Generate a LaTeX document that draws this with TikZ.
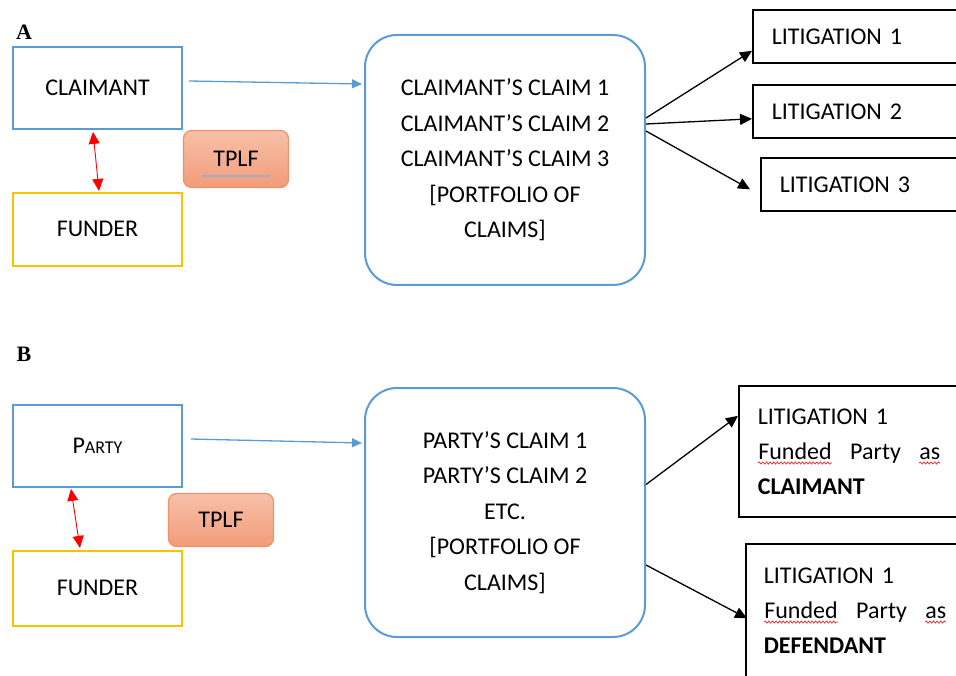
\documentclass[tikz,border=0pt]{standalone}
\usepackage{fontspec}
\setmainfont{Carlito}
\newfontfamily\panelfont{Liberation Serif}
\usetikzlibrary{positioning, shapes, arrows.meta, calc, decorations.pathmorphing}

\definecolor{boxblue}{RGB}{91,155,213}
\definecolor{boxgold}{RGB}{255,192,0}
\definecolor{tplfedge}{RGB}{240,145,105}
\definecolor{tplftop}{RGB}{248,192,168}
\definecolor{tplfbottom}{RGB}{241,156,122}
\definecolor{tplfline}{RGB}{165,172,190}
\definecolor{squigred}{RGB}{230,40,40}

\newcommand{\squig}[1]{\tikz[baseline=(w.base)]{\node[inner sep=0pt, text width={}, align=none, minimum width=0pt, minimum height=0pt] (w) {#1};
    \draw[squigred, line width=0.7pt, decorate, decoration={snake, amplitude=1.1pt, segment length=3.6pt}] ([yshift=-4pt]w.base west) -- ([yshift=-4pt]w.base east);}}

\begin{document}
\begin{tikzpicture}[
    x=1pt, y=-1pt,
    node distance=62pt,
    mybox/.style={rectangle, draw, line width=1.8pt, minimum width=169pt, font=\fontsize{24}{29}\selectfont},
    partybox/.style={mybox, draw=boxblue, minimum height=82pt},
    funderbox/.style={mybox, draw=boxgold},
    tplfbox/.style={rectangle, rounded corners=8pt, draw=tplfedge, line width=1.2pt, top color=tplftop, bottom color=tplfbottom, minimum width=105pt, anchor=north west, font=\fontsize{24}{29}\selectfont},
    claimsbox/.style={rectangle, rounded corners=32pt, draw=boxblue, line width=2pt, minimum width=280pt, align=center, font=\fontsize{24}{35.5}\selectfont},
    litbox/.style={rectangle, draw, line width=1.6pt, anchor=north west, inner xsep=19pt, align=left, font=\fontsize{24}{35}\selectfont},
    panel/.style={font=\panelfont\bfseries\fontsize{22}{26}\selectfont},
    myarrow/.style={-{Triangle[length=12pt, width=11pt]}, line width=1.3pt},
    bluearrow/.style={-{Triangle[length=10pt, width=9pt]}, boxblue, line width=1.3pt},
    redarrow/.style={{Triangle[length=12pt, width=11pt]}-{Triangle[length=12pt, width=11pt]}, red, line width=0.9pt}
]
    \useasboundingbox (0,0) rectangle (956,676);
    \clip (0,0) rectangle (956,676);

    \node[panel] (labela) at (24,32) {A};
    \node[partybox] (claimant) at (97.5,88) {CLAIMANT};
    \node[funderbox, below=of claimant, minimum height=73pt] (fundera) {FUNDER};
    \node[tplfbox, minimum height=57pt] (tplfa) at (claimant.south east) {TPLF};
    \draw[line width=1.5pt, tplfline] ([shift={(-34,17)}]tplfa.center) -- ([shift={(34,17)}]tplfa.center);

    \node[claimsbox, minimum height=250pt] (claimsa) at (505,160) {CLAIMANT'S CLAIM 1\\CLAIMANT'S CLAIM 2\\CLAIMANT'S CLAIM 3\\{[}PORTFOLIO OF\\CLAIMS]};

    \node[litbox, text width=240pt, minimum height=53pt] (lita1) at (752,9) {LITIGATION 1};
    \node[litbox, text width=240pt, minimum height=53pt] (lita2) at (752,84) {LITIGATION 2};
    \node[litbox, text width=240pt, minimum height=53pt] (lita3) at (760,157) {LITIGATION 3};

    \draw[bluearrow] ([shift={(6,-7)}]claimant.east) -- ([shift={(-2,-76)}]claimsa.west);
    \draw[redarrow] ([shift={(-4.5,2)}]claimant.south) -- ([shift={(1.5,-1)}]fundera.north);
    \draw[myarrow] ([shift={(0,-42)}]claimsa.east) -- ([shift={(0,14.5)}]lita1.west);
    \draw[myarrow] ([shift={(0,-36)}]claimsa.east) -- ([shift={(0,7.5)}]lita2.west);
    \draw[myarrow] ([shift={(0,-29)}]claimsa.east) -- ([shift={(-10,5)}]lita3.west);

    \node[panel] (labelb) at (24,354) {B};
    \node[partybox] (party) at (97.5,446) {P{\fontsize{18}{22}\selectfont ARTY}};
    \node[funderbox, below=of party, minimum height=75pt] (funderb) {FUNDER};
    \node[tplfbox, minimum height=53pt] (tplfb) at ([shift={(-15,5)}]party.south east) {TPLF};

    \node[claimsbox, minimum height=249pt] (claimsb) at (505,512.5) {PARTY'S CLAIM 1\\PARTY'S CLAIM 2\\ETC.\\{[}PORTFOLIO OF\\CLAIMS]};

    \node[litbox, text width=183pt, minimum height=131pt] (litb1) at (738,385) {LITIGATION 1\\\squig{Funded}\hfill Party\hfill\squig{as}\\\textbf{CLAIMANT}};
    \node[litbox, text width=183pt, inner xsep=18pt, minimum height=133pt] (litb2) at (745,543) {LITIGATION 1\\\squig{Funded}\hfill Party\hfill\squig{as}\\\textbf{DEFENDANT}};

    \draw[bluearrow] ([shift={(8,-7)}]party.east) -- ([shift={(-2,-69.5)}]claimsb.west);
    \draw[redarrow] ([shift={(-26.5,1)}]party.south) -- ([shift={(-17.5,-2)}]funderb.north);
    \draw[myarrow] ([shift={(0,-28)}]claimsb.east) -- ([shift={(0,-35.5)}]litb1.west);
    \draw[myarrow] ([shift={(0,52.5)}]claimsb.east) -- ([shift={(2,8)}]litb2.west);

\end{tikzpicture}
\end{document}
